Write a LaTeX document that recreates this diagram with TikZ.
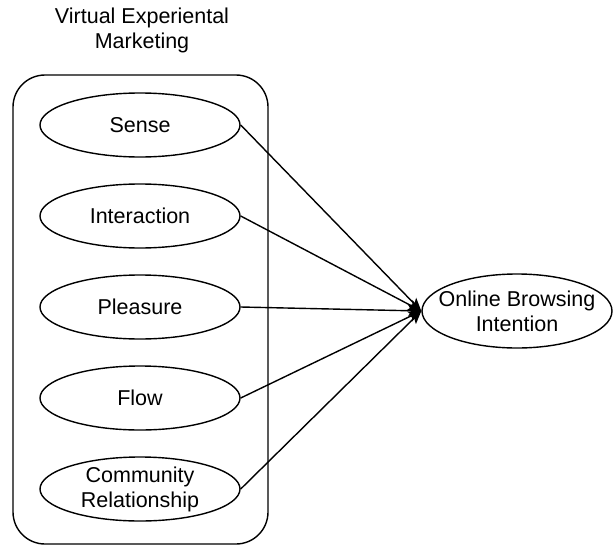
\documentclass[tikz,border=0pt]{standalone}
\usepackage{fontspec}
\setmainfont{Liberation Sans}
\usepackage{tikz}
\usetikzlibrary{shapes.geometric, arrows.meta}
\usetikzlibrary{positioning}

\begin{document}
\begin{tikzpicture}[x=1pt, y=-1pt,
    every node/.style={font=\fontsize{21.5}{25}\selectfont},
    dim/.style={draw, ellipse, line width=1.4pt, inner sep=0pt,
        minimum width=200pt, minimum height=64pt, align=center},
    link/.style={line width=1.4pt, -{Stealth[length=13pt, width=11pt, inset=3pt]}}
  ]
  \useasboundingbox (0,0) rectangle (615,546);

  % group box
  \node [draw, line width=1.4pt, rounded corners=32pt, minimum width=255pt,
         minimum height=469pt] (vem) at (140.5,309.5) {};
  \node [align=center] (title) at (142,30.5) {Virtual Experiental\\Marketing};

  % dimensions
  \node [dim] (sense) at (140,125) {Sense};
  \node [dim] (inter) at (140,216) {Interaction};
  \node [dim] (pleas) at (140,307) {Pleasure};
  \node [dim] (flow) at (140,398) {Flow};
  \node [dim] (comm) at (140,489) {Community\\Relationship};

  % outcome
  \node [dim, minimum width=190pt, minimum height=74pt, inner xsep=-30pt] (obi) at (517,311) {Online Browsing\\Intention};

  \draw [link] (sense.east) -- (obi.west);
  \draw [link] (inter.east) -- (obi.west);
  \draw [link] (pleas.east) -- (obi.west);
  \draw [link] (flow.east) -- (obi.west);
  \draw [link] (comm.east) -- (obi.west);
\end{tikzpicture}
\end{document}
